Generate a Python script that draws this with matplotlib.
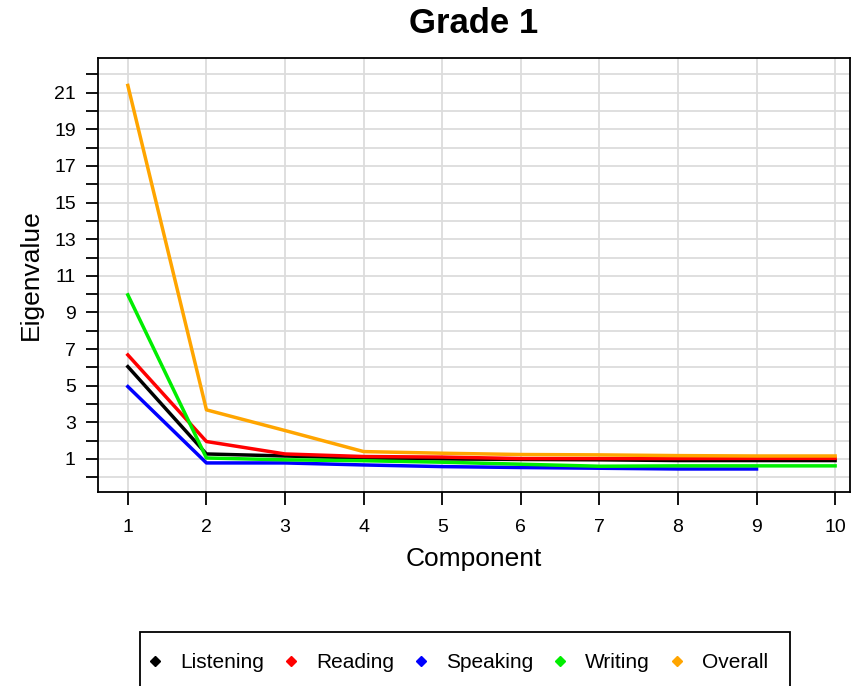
import matplotlib
matplotlib.use("Agg")
import matplotlib.pyplot as plt
from matplotlib.lines import Line2D
from matplotlib.patches import Rectangle

plt.rcParams['font.family'] = ['Liberation Sans', 'DejaVu Sans']

# eigenvalues
components = [1, 2, 3, 4, 5, 6, 7, 8, 9, 10]
listening = [6.04, 1.27, 1.16, 1.05, 1.0, 0.97, 0.95, 0.91, 0.91, 0.91]
reading = [6.68, 1.95, 1.27, 1.13, 1.1, 1.02, 1.02, 1.02, 1.03, 1.03]
speaking = [4.95, 0.78, 0.78, 0.67, 0.58, 0.53, 0.49, 0.45, 0.45]
writing = [9.96, 1.05, 0.95, 0.9, 0.82, 0.71, 0.6, 0.62, 0.62, 0.62]
overall = [21.4, 3.68, 2.55, 1.4, 1.31, 1.24, 1.22, 1.18, 1.16, 1.16]

series = [("Listening", listening, "black"),
          ("Reading", reading, "red"),
          ("Speaking", speaking, "blue"),
          ("Writing", writing, "#00ee00"),
          ("Overall", overall, "orange")]

fig = plt.figure(figsize=(8.52, 6.86), dpi=100)
ax = fig.add_axes([0.115, 0.283, 0.8827, 0.6325])

for name, vals, col in series:
    ax.plot(components[:len(vals)], vals, color=col, lw=2.5, zorder=3)

ax.set_xlim(0.62, 10.19)
ax.set_ylim(-0.8, 22.9)
ax.set_xticks(components)
ax.set_yticks(range(0, 23))
ax.set_yticklabels([str(v) if v % 2 == 1 else "" for v in range(0, 23)])
ax.grid(True, color="#dcdcdc", lw=1.3, zorder=0)
ax.tick_params(axis="both", direction="out", length=9, width=1.3, labelsize=14)
ax.tick_params(axis="x", pad=10.5)
ax.tick_params(axis="y", pad=7)
for s in ax.spines.values():
    s.set_linewidth(1.3)

ax.set_title("Grade 1", fontsize=25, fontweight="bold", pad=18)
ax.set_xlabel("Component", fontsize=19, labelpad=8)
ax.set_ylabel("Eigenvalue", fontsize=19, labelpad=8)

# legend box (bottom edge runs off the figure as in the original)
fig.patches.append(Rectangle((140 / 852, -0.02), 650 / 852, 0.02 + 54 / 686,
                             transform=fig.transFigure, fill=False,
                             edgecolor="black", lw=1.3))

handles = [Line2D([], [], ls="none", marker="D", markersize=5.5, color=col) for _, _, col in series]
labels = [name for name, _, _ in series]
fig.legend(handles, labels, loc="center", bbox_to_anchor=(0.537, 0.034), ncol=5,
           fontsize=15, frameon=False, handlelength=0.8, handletextpad=0.8,
           columnspacing=0.9, borderpad=0)

fig.savefig("out.png", dpi=100)
